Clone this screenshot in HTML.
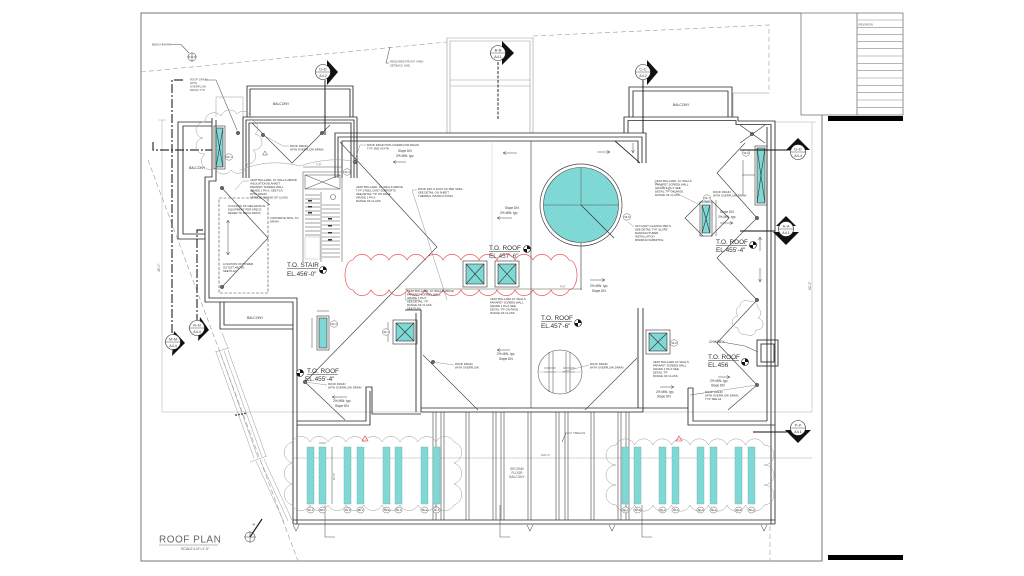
<!DOCTYPE html>
<html><head><meta charset="utf-8"><style>
html,body{margin:0;padding:0;background:#fff;width:1024px;height:576px;overflow:hidden;}
svg{display:block;}
text{font-family:"Liberation Sans",sans-serif;fill:#333;}
.n{font-size:2.8px;fill:#555;}
.s{font-size:3.6px;fill:#444;}
.t{font-size:6.4px;fill:#333;}
.w{fill:none;stroke:#262626;stroke-width:0.85;}
.d{fill:none;stroke:#555;stroke-width:0.55;}
.g{fill:none;stroke:#aaa;stroke-width:0.5;}
.mk{font-size:3.6px;text-anchor:middle;fill:#222;}
</style></head><body>
<svg width="1024" height="576" viewBox="0 0 1024 576" xmlns="http://www.w3.org/2000/svg">
<defs>
<pattern id="h" width="2.6" height="2.6" patternUnits="userSpaceOnUse" patternTransform="rotate(40)">
<rect width="2.6" height="2.6" fill="#84dbd8"/>
<line x1="0" y1="0" x2="0" y2="2.6" stroke="#55c2bf" stroke-width="0.6"/>
</pattern>
</defs>
<rect width="1024" height="576" fill="#fff"/>

<!-- frame -->
<polyline points="801,13 141,13 141,561 822,561 822,115" fill="none" stroke="#777" stroke-width="1"/>
<!-- title block -->
<rect x="801" y="13" width="102" height="102" fill="none" stroke="#777" stroke-width="0.8"/>
<line x1="857" y1="13" x2="857" y2="115" stroke="#777" stroke-width="0.8"/>
<g stroke="#888" stroke-width="0.6">
<line x1="857" y1="20" x2="903" y2="20"/><line x1="857" y1="27.3" x2="903" y2="27.3"/>
<line x1="857" y1="34.7" x2="903" y2="34.7"/><line x1="857" y1="41.7" x2="903" y2="41.7"/>
<line x1="857" y1="48.7" x2="903" y2="48.7"/><line x1="857" y1="56" x2="903" y2="56"/>
<line x1="857" y1="63.3" x2="903" y2="63.3"/><line x1="857" y1="70.7" x2="903" y2="70.7"/>
<line x1="857" y1="78" x2="903" y2="78"/><line x1="857" y1="85.3" x2="903" y2="85.3"/>
<line x1="857" y1="92.7" x2="903" y2="92.7"/><line x1="857" y1="100" x2="903" y2="100"/>
<line x1="857" y1="107.3" x2="903" y2="107.3"/>
</g>
<text x="858.5" y="25.3" style="font-size:3px;fill:#555">REVISION</text>
<rect x="828" y="116" width="75" height="5" fill="#000"/>
<rect x="828" y="555" width="75" height="5" fill="#000"/>

<!-- setback / property dashed lines -->
<g fill="none" stroke="#999" stroke-width="0.6" stroke-dasharray="5,3">
<polyline points="141,72 447,42"/>
<polyline points="533,36 769,25 769,93"/>
<line x1="148" y1="160" x2="298" y2="561"/>
<line x1="770" y1="526" x2="770" y2="561"/>
</g>

<!-- dimension / faint lines -->
<g class="g">
<line x1="162" y1="120" x2="162" y2="412"/>
<line x1="158" y1="120" x2="166" y2="120"/>
<line x1="162" y1="412" x2="812" y2="412"/>
<line x1="293" y1="458" x2="812" y2="458"/>
<line x1="812" y1="122" x2="812" y2="412"/>
<line x1="775" y1="122" x2="816" y2="122"/>
</g>
<text transform="translate(160,272) rotate(-90)" style="font-size:3.4px;fill:#666">45'-0"</text>
<text transform="translate(811,290) rotate(-90)" style="font-size:3.4px;fill:#666">62'-2"</text>
<text x="541" y="456" style="font-size:3px;fill:#666">100'-0"</text>

<!-- tower -->
<g stroke="#999" stroke-width="0.6" fill="none">
<polyline points="447,133 447,38 533,38 533,133"/>
<polyline points="450,133 450,41 530,41 530,133"/>
<line x1="450" y1="80" x2="530" y2="80"/>
<line x1="450" y1="86" x2="530" y2="86"/>
</g>

<!-- benchmark -->
<text x="152" y="45.5" class="n" style="font-size:3px">BENCHMARK</text>
<polyline points="170,44.5 181,44.5 189,53" class="d"/>
<circle cx="192" cy="57" r="4" class="d"/>
<line x1="187" y1="57" x2="197" y2="57" class="d"/><line x1="192" y1="52" x2="192" y2="62" class="d"/>
<text x="390" y="62.5" class="n">REQUIRED FRONT YARD</text>
<text x="390" y="66.5" class="n">SETBACK LINE</text>
<polyline points="389,63 386,63 390,47" class="d"/>
<text x="190" y="80.5" class="n">ROOF DRAIN</text>
<text x="190" y="84" class="n">WITH</text>
<text x="190" y="87.5" class="n">OVERFLOW</text>
<text x="190" y="91" class="n">DRAIN TYP.</text>
<polyline points="205,80 216,80 237,130" class="d"/>

<!-- section lines dash-dot -->
<g fill="none" stroke="#333" stroke-width="1.2" stroke-dasharray="9,2,2,2">
<polyline points="183,80 172,80 172,333"/>
<polyline points="203,230 197,230 197,320"/>
<polyline points="153,142 153,150 212,150"/>
</g>

<!-- WALLS -->
<g class="w">
<polyline points="247,117 247,86 353,86 353,117"/>
<polyline points="250,117 250,89 350,89 350,117"/>
<polyline points="243,178 243,117 357,117 357,178"/>
<polyline points="246,178 246,120 354,120 354,178"/>
<polyline points="249,178 249,123 351,123 351,178"/>
<polyline points="212,122 178,122 178,239 205,239"/>
<polyline points="212,126 183,126 183,234 205,234"/>
<polyline points="212,118 212,177 205,177 205,302 293,302 293,524"/>
<polyline points="216,120 216,181 209,181 209,298 297,298 297,524"/>
<polyline points="220,302 220,329 293,329"/>
<polyline points="224,302 224,325 293,325"/>
<polyline points="335,178 335,133 646,133 646,163"/>
<polyline points="338,178 338,137 642,137 642,163"/>
<polyline points="342,178 342,141 638,141 638,163"/>
<line x1="615" y1="141" x2="640" y2="163"/>
<polyline points="624,133 624,117 738,117 738,121 775,121 775,524"/>
<polyline points="628,133 628,120.5 736,120.5 736,124.5 771,124.5 771,524"/>
<line x1="767" y1="127" x2="767" y2="421"/>
<polyline points="629,117 629,87 732,87 732,117"/>
<polyline points="633,117 633,91 728,91 728,117"/>
<polyline points="405,310 421,310 421,412"/>
<line x1="416" y1="313" x2="416" y2="412"/>
<polyline points="297,421 366,421 366,387 372,387 372,414 421,414"/>
<polyline points="297,425 370,425 370,391"/>
<polyline points="638,308 638,408"/>
<polyline points="643,308 643,412"/>
<line x1="421" y1="408" x2="643" y2="408"/>
<line x1="421" y1="412" x2="643" y2="412"/>
<polyline points="643,408 688,408 688,425 775,425"/>
<polyline points="688,388 693,388 693,421 767,421"/>
<line x1="688" y1="388" x2="688" y2="408"/>
<line x1="293" y1="520" x2="775" y2="520"/>
<line x1="293" y1="524" x2="775" y2="524"/>
<rect x="757" y="340" width="21" height="26"/>
<rect x="761" y="344" width="13" height="18"/>
</g>
<polyline points="733,117 733,93 769,93" class="g" style="stroke:#888"/>
<polyline points="216,117 216,97 243,97 243,117" class="g" style="stroke:#999"/>

<!-- trellis posts -->
<g stroke="#444" stroke-width="0.6">
<line x1="433" y1="412" x2="433" y2="520"/><line x1="436" y1="412" x2="436" y2="520"/>
<line x1="441" y1="412" x2="441" y2="520"/><line x1="444" y1="412" x2="444" y2="520"/>
<line x1="466" y1="412" x2="466" y2="520"/><line x1="469" y1="412" x2="469" y2="520"/>
<line x1="493" y1="412" x2="493" y2="520"/><line x1="496" y1="412" x2="496" y2="520"/>
<line x1="501" y1="412" x2="501" y2="520"/><line x1="504" y1="412" x2="504" y2="520"/>
<line x1="528" y1="412" x2="528" y2="520"/><line x1="531" y1="412" x2="531" y2="520"/>
<line x1="556" y1="412" x2="556" y2="520"/><line x1="559" y1="412" x2="559" y2="520"/>
<line x1="565" y1="412" x2="565" y2="520"/><line x1="568" y1="412" x2="568" y2="520"/>
<line x1="591" y1="412" x2="591" y2="520"/><line x1="594" y1="412" x2="594" y2="520"/>
<line x1="618" y1="412" x2="618" y2="520"/><line x1="621" y1="412" x2="621" y2="520"/>
<line x1="626" y1="412" x2="626" y2="520"/><line x1="629" y1="412" x2="629" y2="520"/>
</g>
<text x="517" y="470" class="n" text-anchor="middle" style="font-size:3.2px">SECOND</text>
<text x="517" y="474" class="n" text-anchor="middle" style="font-size:3.2px">FLOOR</text>
<text x="517" y="478" class="n" text-anchor="middle" style="font-size:3.2px">BALCONY</text>
<text x="573" y="434" class="n" style="font-size:3px">TRELLIS</text>
<polyline points="572,433 566,433 562,442" class="d"/>

<!-- footings -->
<g class="d">
<path d="M293,525 l3,6 l3,-6"/><path d="M527,525 l3,6 l3,-6"/><path d="M609,525 l3,6 l3,-6"/><path d="M761,525 l3,6 l3,-6"/>
<polyline points="325,505 325,537 335,537"/><polyline points="500,505 500,537 510,537"/><polyline points="642,505 642,537 652,537"/>
</g>

<!-- stairs/ramp lower-left -->
<g stroke="#999" stroke-width="0.5" fill="none">
<line x1="216" y1="352" x2="254" y2="458"/><line x1="220" y1="352" x2="258" y2="458"/>
<line x1="224" y1="351" x2="262" y2="457"/><line x1="228" y1="350" x2="266" y2="456"/>
<line x1="256" y1="461" x2="284" y2="522"/><line x1="260" y1="460" x2="288" y2="521"/>
<line x1="264" y1="459" x2="292" y2="520"/>
<line x1="215" y1="352" x2="229" y2="348"/><line x1="250" y1="462" x2="267" y2="456"/>
<line x1="222" y1="333" x2="228" y2="348"/>
</g>
<g fill="#333"><circle cx="236" cy="415" r="0.9"/><circle cx="239" cy="414.5" r="0.9"/><circle cx="242" cy="414" r="0.9"/><circle cx="245" cy="413.5" r="0.9"/></g>

<!-- stair -->
<g class="d">
<polyline points="303,262 303,172 342,172 342,262"/>
<rect x="305" y="175" width="35" height="14"/>
<line x1="305" y1="175" x2="340" y2="189"/><line x1="340" y1="175" x2="305" y2="189"/>
<line x1="321" y1="192" x2="321" y2="262"/>
<line x1="305" y1="195" x2="320" y2="195"/><line x1="305" y1="199" x2="320" y2="199"/>
<line x1="305" y1="203" x2="320" y2="203"/><line x1="305" y1="207" x2="320" y2="207"/>
<line x1="305" y1="211" x2="320" y2="211"/><line x1="305" y1="215" x2="320" y2="215"/>
<line x1="305" y1="219" x2="320" y2="219"/><line x1="305" y1="223" x2="320" y2="223"/>
<line x1="305" y1="227" x2="320" y2="227"/><line x1="305" y1="231" x2="320" y2="231"/>
<line x1="305" y1="235" x2="320" y2="235"/>
<line x1="322" y1="205" x2="340" y2="205"/><line x1="322" y1="209" x2="340" y2="209"/>
<line x1="322" y1="213" x2="340" y2="213"/><line x1="322" y1="217" x2="340" y2="217"/>
<line x1="322" y1="221" x2="340" y2="221"/><line x1="322" y1="225" x2="340" y2="225"/>
<line x1="322" y1="229" x2="340" y2="229"/><line x1="322" y1="233" x2="340" y2="233"/>
<line x1="322" y1="237" x2="340" y2="237"/><line x1="322" y1="241" x2="340" y2="241"/>
<line x1="322" y1="245" x2="340" y2="245"/><line x1="322" y1="249" x2="340" y2="249"/>
<line x1="322" y1="253" x2="340" y2="253"/><line x1="322" y1="257" x2="340" y2="257"/>
<line x1="303" y1="167" x2="342" y2="167"/>
<circle cx="333" cy="197" r="2.5"/>
</g>
<rect x="305" y="237" width="15" height="22" fill="none" stroke="#bbb" stroke-width="0.5"/>
<text x="316" y="165.5" class="n">7'-0"</text>
<g fill="#333"><rect x="308" y="200" width="4" height="1.5"/><rect x="308" y="206" width="4" height="1.5"/><rect x="308" y="212" width="4" height="1.5"/><rect x="328" y="218" width="4" height="1.5"/><rect x="328" y="225" width="4" height="1.5"/><rect x="328" y="232" width="4" height="1.5"/><rect x="328" y="239" width="4" height="1.5"/></g>

<!-- dashed rect left wing -->
<rect x="219" y="198" width="49" height="95" fill="none" stroke="#444" stroke-width="0.6" stroke-dasharray="3,1.5"/>

<!-- hip / valley lines -->
<g stroke="#444" stroke-width="0.65" fill="none">
<polyline points="222,188 268,238 222,287"/>
<polyline points="252,123 292,163 330,125"/>
<polyline points="340,142 437,247 305,382"/>
<line x1="305" y1="382" x2="345" y2="420"/>
<polyline points="423,355 478,410"/>
<polyline points="585,410 637,358"/>
<polyline points="745,143 717,173 757,218 717,258 757,300 717,343 757,385 728,410"/>
<polyline points="703,200 685,218 703,236"/>
<polyline points="711,200 729,218 711,236"/>
<line x1="740" y1="125" x2="765" y2="143"/><line x1="765" y1="125" x2="740" y2="143"/>
<line x1="531" y1="141" x2="531" y2="408"/>
<line x1="581" y1="205" x2="581" y2="290"/>
<line x1="251" y1="190" x2="270" y2="205"/>
</g>
<line x1="492" y1="141" x2="492" y2="260" stroke="#ccc" stroke-width="0.5"/>
<line x1="405" y1="289" x2="582" y2="289" class="d"/>
<text x="560" y="287.5" class="n">4'-2"</text>

<!-- drain X marks -->
<g fill="#666" stroke="#333" stroke-width="0.4">
<circle cx="263" cy="135" r="1.8"/><circle cx="322" cy="133" r="1.8"/><circle cx="222" cy="188" r="1.8"/>
<circle cx="222" cy="287" r="1.8"/><circle cx="355" cy="162" r="1.8"/><circle cx="757" cy="218" r="1.8"/>
<circle cx="757" cy="300" r="1.8"/><circle cx="757" cy="385" r="1.8"/><circle cx="433" cy="362" r="1.8"/>
<circle cx="305" cy="382" r="1.8"/><circle cx="238" cy="133" r="1.8"/><circle cx="752" cy="134" r="1.8"/>
</g>

<!-- big cyan circle -->
<circle cx="581" cy="205" r="41" fill="none" stroke="#444" stroke-width="0.7"/>
<circle cx="581" cy="205" r="37.5" fill="url(#h)" stroke="#444" stroke-width="0.6"/>
<line x1="543.5" y1="205" x2="618.5" y2="205" stroke="#555" stroke-width="0.5"/>
<line x1="581" y1="167.5" x2="581" y2="205" stroke="#555" stroke-width="0.5"/>
<line x1="581" y1="205" x2="614" y2="238" stroke="#333" stroke-width="0.7"/>

<!-- pipe detail circle -->
<circle cx="560" cy="372" r="22" class="d"/>
<g class="d">
<line x1="549" y1="352" x2="549" y2="392"/><line x1="553" y1="352" x2="553" y2="392"/>
<line x1="566" y1="352" x2="566" y2="392"/><line x1="570" y1="352" x2="570" y2="392"/>
<line x1="544" y1="368" x2="556" y2="368"/><line x1="544" y1="372" x2="556" y2="372"/>
<line x1="563" y1="368" x2="575" y2="368"/><line x1="563" y1="372" x2="575" y2="372"/>
<line x1="538" y1="372" x2="582" y2="372" style="stroke:#aaa"/>
</g>

<!-- skylights / panels -->
<g stroke="#333" stroke-width="0.6">
<rect x="463" y="261" width="24" height="26" fill="none"/><rect x="466" y="264" width="18" height="20" fill="url(#h)"/>
<line x1="466" y1="264" x2="484" y2="284"/><line x1="484" y1="264" x2="466" y2="284"/>
<rect x="495" y="261" width="24" height="26" fill="none"/><rect x="498" y="264" width="18" height="20" fill="url(#h)"/>
<line x1="498" y1="264" x2="516" y2="284"/><line x1="516" y1="264" x2="498" y2="284"/>
<rect x="393" y="320" width="24" height="24" fill="none"/><rect x="396" y="323" width="18" height="18" fill="url(#h)"/>
<line x1="396" y1="323" x2="414" y2="341"/><line x1="414" y1="323" x2="396" y2="341"/>
<rect x="646" y="330" width="24" height="24" fill="none"/><rect x="649" y="333" width="18" height="18" fill="url(#h)"/>
<line x1="649" y1="333" x2="667" y2="351"/><line x1="667" y1="333" x2="649" y2="351"/>
<rect x="214" y="126" width="11" height="43" fill="none"/><rect x="216" y="128" width="7" height="39" fill="url(#h)"/>
<line x1="216" y1="128" x2="223" y2="167"/><line x1="223" y1="128" x2="216" y2="167"/>
<rect x="755" y="146" width="12" height="59" fill="none"/><rect x="757" y="148" width="8" height="55" fill="url(#h)"/>
<line x1="757" y1="148" x2="765" y2="203"/><line x1="765" y1="148" x2="757" y2="203"/>
<rect x="700" y="202" width="12" height="34" fill="none"/><rect x="702" y="205" width="8" height="28" fill="url(#h)"/>
<line x1="702" y1="205" x2="710" y2="233"/><line x1="710" y1="205" x2="702" y2="233"/>
<rect x="317" y="316" width="12" height="34" fill="none"/><rect x="319" y="318" width="8" height="30" fill="url(#h)"/>
</g>
<g class="d">
<line x1="743" y1="160" x2="743" y2="195"/><line x1="742" y1="175" x2="755" y2="175"/>
<line x1="716" y1="200" x2="716" y2="236"/><line x1="312" y1="318" x2="312" y2="348"/>
<line x1="388" y1="322" x2="388" y2="342"/><line x1="317" y1="311" x2="329" y2="311"/>
</g>

<!-- PV panels -->
<g fill="url(#h)" stroke="#7aa" stroke-width="0.4">
<rect x="307" y="447" width="7" height="57"/><rect x="319" y="447" width="7" height="57"/>
<rect x="344" y="447" width="7" height="57"/><rect x="357" y="447" width="7" height="57"/>
<rect x="383" y="447" width="7" height="57"/><rect x="395" y="447" width="7" height="57"/>
<rect x="421" y="447" width="7" height="57"/><rect x="433" y="447" width="7" height="57"/>
<rect x="622" y="447" width="7" height="57"/><rect x="634" y="447" width="7" height="57"/>
<rect x="659" y="447" width="7" height="57"/><rect x="672" y="447" width="7" height="57"/>
<rect x="697" y="447" width="7" height="57"/><rect x="710" y="447" width="7" height="57"/>
<rect x="735" y="447" width="7" height="57"/><rect x="748" y="447" width="7" height="57"/>
</g>
<line x1="332" y1="447" x2="332" y2="504" class="d"/>
<line x1="319" y1="443" x2="326" y2="443" class="d"/>
<text transform="translate(335,480) rotate(-90)" class="n">10'-0"</text>

<!-- panel tags -->
<g fill="#fff" stroke="#555" stroke-width="0.45">
<ellipse cx="310.5" cy="510" rx="3.6" ry="3"/><ellipse cx="322.5" cy="510" rx="3.6" ry="3"/>
<ellipse cx="347.5" cy="510" rx="3.6" ry="3"/><ellipse cx="360.5" cy="510" rx="3.6" ry="3"/>
<ellipse cx="386.5" cy="510" rx="3.6" ry="3"/><ellipse cx="398.5" cy="510" rx="3.6" ry="3"/>
<ellipse cx="424.5" cy="510" rx="3.6" ry="3"/><ellipse cx="436.5" cy="510" rx="3.6" ry="3"/>
<ellipse cx="625.5" cy="510" rx="3.6" ry="3"/><ellipse cx="637.5" cy="510" rx="3.6" ry="3"/>
<ellipse cx="662.5" cy="510" rx="3.6" ry="3"/><ellipse cx="675.5" cy="510" rx="3.6" ry="3"/>
<ellipse cx="700.5" cy="510" rx="3.6" ry="3"/><ellipse cx="713.5" cy="510" rx="3.6" ry="3"/>
<ellipse cx="738.5" cy="510" rx="3.6" ry="3"/><ellipse cx="751.5" cy="510" rx="3.6" ry="3"/>
<ellipse cx="229" cy="157" rx="3.6" ry="3.2"/><ellipse cx="347" cy="172" rx="3.6" ry="3.2"/>
<ellipse cx="334" cy="324" rx="3.6" ry="3.2"/><ellipse cx="386" cy="332" rx="3.6" ry="3.2"/>
<ellipse cx="627" cy="217" rx="3.8" ry="3.2"/><ellipse cx="746" cy="153" rx="3.6" ry="3.2"/>
<ellipse cx="707" cy="198" rx="3.6" ry="3.2"/><ellipse cx="674" cy="343" rx="3.8" ry="3.2"/>
</g>
<g class="mk" style="font-size:2.4px">
<text x="310.5" y="511">SK-1</text><text x="322.5" y="511">SK-1</text><text x="347.5" y="511">SK-1</text><text x="360.5" y="511">SK-1</text>
<text x="386.5" y="511">SK-1</text><text x="398.5" y="511">SK-1</text><text x="424.5" y="511">SK-1</text><text x="436.5" y="511">SK-1</text>
<text x="625.5" y="511">SK-1</text><text x="637.5" y="511">SK-1</text><text x="662.5" y="511">SK-1</text><text x="675.5" y="511">SK-1</text>
<text x="700.5" y="511">SK-1</text><text x="713.5" y="511">SK-1</text><text x="738.5" y="511">SK-1</text><text x="751.5" y="511">SK-1</text>
<text x="229" y="158">SK-1</text><text x="347" y="173">SK-2</text><text x="334" y="325">SK-3</text><text x="386" y="333">SK-4</text>
<text x="627" y="218">SK-5</text><text x="746" y="154">SK-6</text><text x="707" y="199">SK-7</text><text x="674" y="344">SK-8</text>
</g>

<!-- clouds -->
<path d="M292,442 a10,10 0 0,1 18,0 a10,10 0 0,1 18,0 a10,10 0 0,1 18,0 a10,10 0 0,1 18,0 a10,10 0 0,1 18,0 a10,10 0 0,1 18,0 a10,10 0 0,1 18,0 a10,10 0 0,1 18,0 a10,10 0 0,1 18,0 a11,11 0 0,1 0,21 a11,11 0 0,1 0,21 a11,11 0 0,1 0,21 a10,10 0 0,1 -18,0 a10,10 0 0,1 -18,0 a10,10 0 0,1 -18,0 a10,10 0 0,1 -18,0 a10,10 0 0,1 -18,0 a10,10 0 0,1 -18,0 a10,10 0 0,1 -18,0 a10,10 0 0,1 -18,0 a10,10 0 0,1 -18,0 a11,11 0 0,1 0,-21 a11,11 0 0,1 0,-21 a11,11 0 0,1 0,-21 Z" fill="none" stroke="#999" stroke-width="0.5"/>
<path d="M616,445 a10,10 0 0,1 18.5,0 a10,10 0 0,1 18.5,0 a10,10 0 0,1 18.5,0 a10,10 0 0,1 18.5,0 a10,10 0 0,1 18.5,0 a10,10 0 0,1 18.5,0 a10,10 0 0,1 18.5,0 a10,10 0 0,1 18.5,0 a10,10 0 0,1 0,20 a10,10 0 0,1 0,20 a10,10 0 0,1 0,20 a10,10 0 0,1 -18.5,0 a10,10 0 0,1 -18.5,0 a10,10 0 0,1 -18.5,0 a10,10 0 0,1 -18.5,0 a10,10 0 0,1 -18.5,0 a10,10 0 0,1 -18.5,0 a10,10 0 0,1 -18.5,0 a10,10 0 0,1 -18.5,0 a10,10 0 0,1 0,-20 a10,10 0 0,1 0,-20 a10,10 0 0,1 0,-20 Z" fill="none" stroke="#999" stroke-width="0.5"/>
<path d="M353,260 a10,10 0 0,1 18,0 a10,10 0 0,1 18,0 a10,10 0 0,1 18,0 a10,10 0 0,1 18,0 a10,10 0 0,1 18,0 a10,10 0 0,1 18,0 a10,10 0 0,1 18,0 a10,10 0 0,1 18,0 a10,10 0 0,1 18,0 a10,10 0 0,1 18,0 a10,10 0 0,1 18,0 a10,10 0 0,1 18,0 a8,15 0 0,1 0,30 a10,10 0 0,1 -18,0 a10,10 0 0,1 -18,0 a10,10 0 0,1 -18,0 a10,10 0 0,1 -18,0 a10,10 0 0,1 -18,0 a10,10 0 0,1 -18,0 a10,10 0 0,1 -18,0 a10,10 0 0,1 -18,0 a10,10 0 0,1 -18,0 a10,10 0 0,1 -18,0 a10,10 0 0,1 -18,0 a10,10 0 0,1 -18,0 a8,15 0 0,1 0,-30 Z" fill="none" stroke="#e23b3b" stroke-width="0.6"/>
<path d="M205,122 a9,9 0 0,1 16,-6 a9,9 0 0,1 16,-2 a8,8 0 0,1 14,6 a8,8 0 0,1 4,14 a8,8 0 0,1 -2,16 a8,8 0 0,1 -6,14 a9,9 0 0,1 -16,6 a9,9 0 0,1 -16,-2 a8,8 0 0,1 -10,-14 a8,8 0 0,1 -2,-16 a8,8 0 0,1 2,-16 Z" fill="none" stroke="#999" stroke-width="0.5"/>
<path d="M240,170 q30,-12 60,-4 q30,-10 58,-4" fill="none" stroke="#999" stroke-width="0.5"/>
<path d="M740,306 a6,6 0 0,1 10,-4 a6,6 0 0,1 8,6 a6,6 0 0,1 0,10 a6,6 0 0,1 -2,12 a6,6 0 0,1 -10,4 a6,6 0 0,1 -8,-6 a6,6 0 0,1 0,-12 a6,6 0 0,1 2,-10 Z" fill="none" stroke="#999" stroke-width="0.5"/>
<path d="M365,436 l3,5 h-6 Z" fill="none" stroke="#e23b3b" stroke-width="0.6"/>
<path d="M679,436 l3,5 h-6 Z" fill="none" stroke="#e23b3b" stroke-width="0.6"/>
<path d="M265,151 l2.5,4 h-5 Z" fill="none" stroke="#555" stroke-width="0.5"/>

<!-- section markers -->
<g stroke="#111" stroke-width="0.5">
<line x1="325" y1="80" x2="325" y2="135" stroke-width="0.9"/>
<line x1="498" y1="62" x2="498" y2="120" stroke-width="0.9" stroke-dasharray="3,1.5"/>
<line x1="643" y1="80" x2="643" y2="133" stroke-width="0.9"/>
<line x1="740" y1="150" x2="790" y2="150" stroke-width="0.9"/>
<line x1="740" y1="231" x2="775" y2="231" stroke-width="0.9"/>
<line x1="753" y1="432" x2="787" y2="432" stroke-width="0.9"/>
</g>
<g fill="#111">
<path d="M327,60 L338,72 L327,85 Z"/>
<path d="M502,41 L514,53 L502,65 Z"/>
<path d="M647,60 L658,72 L647,85 Z"/>
<path d="M786,150 L798,138 L810,150 Z"/>
<path d="M773,232 L786,245 L799,232 Z"/>
<path d="M776,226 L786,216 L796,226 Z"/>
<path d="M785,430 L798,443 L811,430 Z"/>
<path d="M200,317 L209,330 L198,341 Z"/>
<path d="M174,331 L185,343 L172,356 Z"/>
</g>
<g fill="#fff" stroke="#222" stroke-width="0.6">
<circle cx="323" cy="72" r="7.5"/><circle cx="498" cy="53" r="7.5"/><circle cx="643" cy="72" r="7.5"/>
<circle cx="798" cy="152" r="7.5"/><circle cx="786" cy="229" r="7.5"/><circle cx="798" cy="428" r="7.5"/>
<circle cx="197" cy="328" r="7.5"/><circle cx="173" cy="342" r="7.5"/>
</g>
<g stroke="#222" stroke-width="0.4">
<line x1="315.5" y1="72" x2="330.5" y2="72"/><line x1="490.5" y1="53" x2="505.5" y2="53"/><line x1="635.5" y1="72" x2="650.5" y2="72"/>
<line x1="790.5" y1="152" x2="805.5" y2="152"/><line x1="778.5" y1="229" x2="793.5" y2="229"/><line x1="790.5" y1="428" x2="805.5" y2="428"/>
<line x1="189.5" y1="328" x2="204.5" y2="328"/><line x1="165.5" y1="342" x2="180.5" y2="342"/>
</g>
<g class="mk">
<text x="323" y="70.5">D–D</text><text x="323" y="76.8">A4.2</text>
<text x="498" y="51.5">B–B</text><text x="498" y="57.8">A4.1</text>
<text x="643" y="70.5">C–C</text><text x="643" y="76.8">A4.2</text>
<text x="798" y="150.5">D–D</text><text x="798" y="156.8">A4.4</text>
<text x="786" y="227.5">A–A</text><text x="786" y="233.8">A4.1</text>
<text x="798" y="426.5">P–P</text><text x="798" y="432.8">A4.1</text>
<text x="197" y="326.5">N–N</text><text x="197" y="332.8">A4.4</text>
<text x="173" y="340.5">M–M</text><text x="173" y="346.8">A4.4</text>
</g>

<!-- T.O. labels -->
<g class="t">
<text x="287" y="267">T.O. STAIR</text><text x="287" y="276">EL.456'-0"</text>
<text x="307" y="373">T.O. ROOF</text><text x="305" y="381">EL.455'-4"</text>
<text x="489" y="250">T.O. ROOF</text><text x="489" y="258" style="fill:#555">EL.457'-6"</text>
<text x="541" y="320">T.O. ROOF</text><text x="541" y="328">EL.457'-6"</text>
<text x="716" y="244">T.O. ROOF</text><text x="716" y="252">EL.455'-4"</text>
<text x="708" y="359">T.O. ROOF</text><text x="708" y="367">EL.456</text>
</g>
<g stroke="#333" stroke-width="0.5">
<line x1="287" y1="268.5" x2="318" y2="268.5"/><line x1="307" y1="374.5" x2="338" y2="374.5"/>
<line x1="489" y1="251.5" x2="520" y2="251.5"/><line x1="541" y1="321.5" x2="572" y2="321.5"/>
<line x1="716" y1="245.5" x2="747" y2="245.5"/><line x1="708" y1="360.5" x2="739" y2="360.5"/>
</g>
<!-- elevation markers -->
<g>
<g transform="translate(323,270)"><circle r="3.5" fill="#fff" stroke="#111" stroke-width="0.6"/><path d="M0,0 L3.5,0 A3.5,3.5 0 0,0 0,-3.5 Z M0,0 L-3.5,0 A3.5,3.5 0 0,0 0,3.5 Z" fill="#111"/></g>
<g transform="translate(300,373)"><circle r="3.5" fill="#fff" stroke="#111" stroke-width="0.6"/><path d="M0,0 L3.5,0 A3.5,3.5 0 0,0 0,-3.5 Z M0,0 L-3.5,0 A3.5,3.5 0 0,0 0,3.5 Z" fill="#111"/></g>
<g transform="translate(527,249)"><circle r="3.5" fill="#fff" stroke="#111" stroke-width="0.6"/><path d="M0,0 L3.5,0 A3.5,3.5 0 0,0 0,-3.5 Z M0,0 L-3.5,0 A3.5,3.5 0 0,0 0,3.5 Z" fill="#111"/></g>
<g transform="translate(578,323)"><circle r="3.5" fill="#fff" stroke="#111" stroke-width="0.6"/><path d="M0,0 L3.5,0 A3.5,3.5 0 0,0 0,-3.5 Z M0,0 L-3.5,0 A3.5,3.5 0 0,0 0,3.5 Z" fill="#111"/></g>
<g transform="translate(753,245)"><circle r="3.5" fill="#fff" stroke="#111" stroke-width="0.6"/><path d="M0,0 L3.5,0 A3.5,3.5 0 0,0 0,-3.5 Z M0,0 L-3.5,0 A3.5,3.5 0 0,0 0,3.5 Z" fill="#111"/></g>
<g transform="translate(745,362)"><circle r="3.5" fill="#fff" stroke="#111" stroke-width="0.6"/><path d="M0,0 L3.5,0 A3.5,3.5 0 0,0 0,-3.5 Z M0,0 L-3.5,0 A3.5,3.5 0 0,0 0,3.5 Z" fill="#111"/></g>
</g>

<!-- BALCONY labels -->
<g class="n" style="font-size:3.4px;fill:#444">
<text x="273" y="105">BALCONY</text><text x="189" y="169">BALCONY</text>
<text x="673" y="106">BALCONY</text><text x="247" y="319">BALCONY</text>
<text x="709" y="343">CHIMNEY</text>
</g>
<polyline points="722,342 745,346 758,352" class="d"/>

<!-- slope notes -->
<g class="s" style="font-size:3.2px">
<text x="398" y="152">Slope DN</text><text x="396" y="157">2% MIN. typ.</text>
<text x="505" y="209">Slope DN</text><text x="500" y="214">2% MIN. typ.</text>
<text x="590" y="287">2% MIN. typ.</text><text x="592" y="292">Slope DN</text>
<text x="720" y="213">Slope DN</text><text x="718" y="218">2% MIN. typ.</text>
<text x="333" y="402">2% MIN. typ.</text><text x="335" y="407">Slope DN</text>
<text x="497" y="355">2% MIN. typ.</text><text x="499" y="360">Slope DN</text>
<text x="656" y="393">2% MIN. typ.</text><text x="657" y="397.5">Slope DN</text>
<text x="710" y="382">2% MIN. typ.</text><text x="711" y="386.5">Slope DN</text>
</g>
<g stroke="#444" stroke-width="0.5" fill="none">
<path d="M393,162 h13 M393,162 l3,-1.5 M393,162 l3,1.5"/>
<path d="M503,153 h14 M503,153 l3,-1.5 M503,153 l3,1.5"/>
<path d="M597,152 h13 M610,152 l-3,-1.5 M610,152 l-3,1.5"/>
<path d="M497,218 h15 M497,218 l3,-1.5 M497,218 l3,1.5"/>
<path d="M590,280 h15 M605,280 l-3,-1.5 M605,280 l-3,1.5"/>
<path d="M720,223 h13 M733,223 l-3,-1.5 M733,223 l-3,1.5"/>
<path d="M332,397 h15 M332,397 l3,-1.5 M332,397 l3,1.5"/>
<path d="M497,350 h13 M497,350 l3,-1.5 M497,350 l3,1.5"/>
<path d="M660,387 h14 M674,387 l-3,-1.5 M674,387 l-3,1.5"/>
<path d="M718,377 h12 M730,377 l-3,-1.5 M730,377 l-3,1.5"/>
<path d="M760,237 v14 M760,237 l-1.5,3 M760,237 l1.5,3"/>
<path d="M760,268 v14 M760,282 l-1.5,-3 M760,282 l1.5,-3"/>
<path d="M633,143 v10 M633,153 l-1.5,-3 M633,153 l1.5,-3"/>
<path d="M228,220 v35 M228,220 l-1.5,3 M228,220 l1.5,3 M228,255 l-1.5,-3 M228,255 l1.5,-3"/>
</g>

<!-- small notes -->
<g class="n">
<text x="290" y="147">ROOF DRAIN</text><text x="290" y="150.5">WITH OVERFLOW DRAIN</text>
<text x="367" y="146">ROOF DRAIN WITH OVERFLOW DRAIN</text><text x="367" y="149.5">TYP. SEE AS FIN</text>
<text x="250" y="181">VENT BOLLARD, 10' WALLS ABOVE</text><text x="250" y="184.5">INSULATION BLANKET</text><text x="250" y="188">PARAPET SCREEN WALL</text><text x="250" y="191.5">GRADE 1 PA-X, SEE FLR</text><text x="250" y="195">WITH DRAIN</text><text x="250" y="198.5">APPROX. RANGE OF CLASS</text>
<text x="356" y="188">VENT BOLLARD, 10' WALLS ABOVE</text><text x="356" y="191.5">TYP. STEEL CANT SUPPORTS</text><text x="356" y="195">SEE DETAIL 'TP' ON PAGE</text><text x="356" y="198.5">GRADE 1 PA-X</text><text x="356" y="202">RANGE OF CLASS</text>
<text x="418" y="190">ROOF FAN &amp; DUCT AS PER SPEC</text><text x="418" y="193.5">SEE DETAIL ON SHEET</text><text x="418" y="197">THERMAL INSTRUCTIONS</text>
<text x="228" y="207">LOCATION OF MECHANICAL</text><text x="228" y="210.5">EQUIPMENT PER SPECS</text><text x="228" y="214">REFER TO MECH DWGS</text>
<text x="270" y="219">CONCRETE SPILL TO</text><text x="270" y="222.5">DRAIN</text>
<text x="223" y="265">LOCATION OF POWER</text><text x="223" y="268.5">OUTLET ABOVE</text><text x="223" y="272">SEE PLAN</text>
<text x="407" y="292">VENT BOLLARD, 10' WALLS ABOVE</text><text x="407" y="295.5">PARAPET SCREEN WALL</text><text x="407" y="299">GRADE 1 PA-X</text><text x="407" y="302.5">SEE DETAIL 'TP'</text><text x="407" y="306">RANGE OF CLASS</text><text x="407" y="309.5">SEE PLAN</text>
<text x="490" y="300">VENT BOLLARD 10' WALLS</text><text x="490" y="303.5">PARAPET SCREEN WALL</text><text x="490" y="307">GRADE 1 PA-X SEE</text><text x="490" y="310.5">DETAIL 'TP' ON PAGE</text><text x="490" y="314">RANGE OF CLASS</text>
<text x="635" y="227">SKYLIGHT GLAZING PER S</text><text x="635" y="230.5">SEE DETAIL TYP. SLOPE</text><text x="635" y="234">MANUFACTURER</text><text x="635" y="237.5">INSTALLATION</text><text x="635" y="241">MINIMUM SUBMITTAL</text>
<text x="655" y="182">VENT BOLLARD, 10' WALLS</text><text x="655" y="185.5">PARAPET SCREEN WALL</text><text x="655" y="189">GRADE 1 PA-X SEE</text><text x="655" y="192.5">DETAIL 'TP' ON PAGE</text><text x="655" y="196">RANGE OF CLASS</text>
<text x="713" y="193">ROOF DRAIN</text><text x="713" y="196.5">WITH OVERFLOW DRAIN</text>
<text x="455" y="365">ROOF DRAIN</text><text x="455" y="368.5">WITH OVERFLOW</text>
<text x="590" y="365">ROOF DRAIN</text><text x="590" y="368.5">WITH OVERFLOW DRAIN</text>
<text x="653" y="363">VENT BOLLARD 10' WALLS</text><text x="653" y="366.5">PARAPET SCREEN WALL</text><text x="653" y="370">GRADE 1 PA-X SEE</text><text x="653" y="373.5">DETAIL 'TP'</text><text x="653" y="377">RANGE OF CLASS</text>
<text x="705" y="393">ROOF DRAIN</text><text x="705" y="396.5">WITH OVERFLOW DRAIN</text><text x="705" y="400">TYP. SEE A4</text>
<text x="328" y="385">ROOF DRAIN</text><text x="328" y="388.5">WITH OVERFLOW DRAIN</text>
</g>
<g class="d" style="stroke:#777;stroke-width:0.4">
<polyline points="289,146 283,146 263,135"/>
<polyline points="366,145 360,145 355,160"/>
<polyline points="249,181 243,181 235,190"/>
<polyline points="417,190 412,190 447,300"/>
<polyline points="634,227 628,222"/>
<polyline points="654,182 700,205"/>
<polyline points="454,365 433,362"/>
<polyline points="589,365 562,372"/>
<polyline points="704,393 690,395 757,385"/>
<polyline points="327,385 305,382"/>
<polyline points="406,292 405,300 420,300"/>
</g>

<!-- north arrow & title -->
<circle cx="250" cy="537" r="5" class="d"/>
<line x1="244" y1="537" x2="256" y2="537" class="d"/><line x1="250" y1="531" x2="250" y2="543" class="d"/>
<line x1="250" y1="537" x2="262" y2="519" stroke="#222" stroke-width="1.2"/>
<text transform="translate(254,526) rotate(-55)" style="font-size:3px;fill:#333">N</text>
<text x="159" y="542.5" style="font-size:10px;fill:#666;letter-spacing:0.5px">ROOF PLAN</text>
<line x1="159" y1="545" x2="218" y2="545" stroke="#777" stroke-width="0.6"/>
<text x="181" y="550" style="font-size:3.6px;fill:#555">SCALE:1/4"=1'-0"</text>
</svg>
</body></html>
